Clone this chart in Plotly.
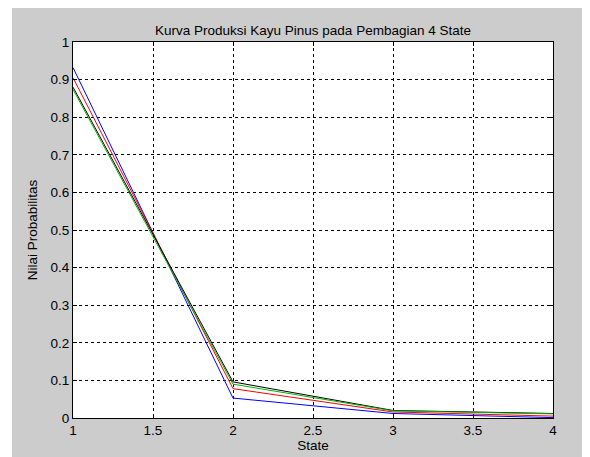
import plotly.graph_objects as go

states = [1, 2, 3, 4]
blue_vals = [0.932, 0.053, 0.012, 0.001]
red_vals = [0.905, 0.078, 0.016, 0.005]
black_vals = [0.880, 0.096, 0.020, 0.012]
green_vals = [0.874, 0.090, 0.019, 0.011]

x_ticks = [1, 1.5, 2, 2.5, 3, 3.5, 4]
x_tick_labels = ["1", "1.5", "2", "2.5", "3", "3.5", "4"]
y_ticks = [0, 0.1, 0.2, 0.3, 0.4, 0.5, 0.6, 0.7, 0.8, 0.9, 1]
y_tick_labels = ["0", "0.1", "0.2", "0.3", "0.4", "0.5", "0.6", "0.7", "0.8", "0.9", "1"]

series = [
    ("blue", blue_vals, "#0000ff"),
    ("red", red_vals, "#ff0000"),
    ("black", black_vals, "#000000"),
    ("green", green_vals, "#00b400"),
]

fig = go.Figure()
for name, vals, color in series:
    fig.add_trace(go.Scatter(x=states, y=vals, mode="lines", name=name,
                             line=dict(color=color, width=1)))

font = dict(family="Liberation Sans, Arial, sans-serif", size=13.5, color="#000000")

axis_common = dict(
    showgrid=True, gridcolor="#000000", griddash="3px,3px", gridwidth=1,
    showline=True, linecolor="#000000", linewidth=1, mirror="ticks",
    ticks="inside", ticklen=4, tickcolor="#000000",
    zeroline=False, tickfont=font, automargin=False,
)

# page has an 8px body margin; figure is sized to fill the rest
W, H = 582, 450
L, T, R, B = 65, 34, 37, 40
PW, PH = W - L - R, H - T - B

fig.update_layout(
    width=W, height=H,
    margin=dict(l=L, r=R, t=T, b=B),
    paper_bgcolor="#ffffff",
    plot_bgcolor="#ffffff",
    showlegend=False,
    title=dict(text="Kurva Produksi Kayu Pinus pada Pembagian 4 State",
               x=(L + PW / 2) / W, xanchor="center", y=1 - 22 / H, yanchor="middle",
               font=dict(family="Liberation Sans, Arial, sans-serif", size=13.5, color="#000000")),
    xaxis=dict(range=[1, 4], tickvals=x_ticks, ticktext=x_tick_labels,
               title=dict(text="State", font=font, standoff=2), **axis_common),
    yaxis=dict(range=[0, 1], tickvals=y_ticks, ticktext=y_tick_labels,
               title=dict(text="Nilai Probabilitas", font=font, standoff=9), **axis_common),
    shapes=[
        dict(type="rect", xref="paper", yref="paper",
             x0=(4 - L) / PW, x1=(W - L) / PW + 0.02,
             y0=-B / PH - 0.02, y1=(H - B) / PH + 0.02,
             fillcolor="#cccccc", line=dict(width=0), layer="below"),
        dict(type="rect", xref="paper", yref="paper", x0=0, x1=1, y0=0, y1=1,
             fillcolor="#ffffff", line=dict(width=0), layer="below"),
    ],
)

fig.write_html("out.html")
